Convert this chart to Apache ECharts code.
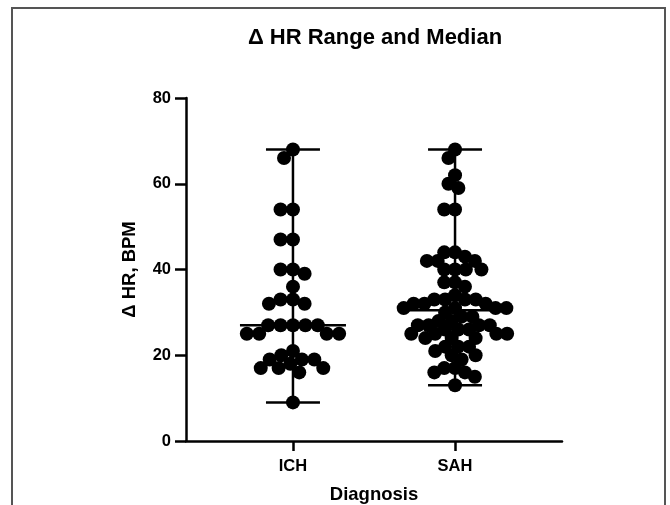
<!DOCTYPE html>
<html>
<head>
<meta charset="utf-8">
<script src="https://cdn.jsdelivr.net/npm/echarts@6/dist/echarts.min.js"></script>
<style>
html,body{margin:0;padding:0;background:#fff;overflow:hidden;}
#chart{width:670px;height:505px;}
</style>
</head>
<body>
<div id="chart"></div>
<script>
// ---- data ----
const categories = ['ICH', 'SAH'];
const ichValues = [68, 66, 54, 54, 47, 47, 39, 40, 40, 36, 33, 33, 32, 32,
  27, 27, 27, 27, 27, 25, 25, 25, 25, 21, 20,
  19, 19, 18, 17, 17, 16, 17, 19, 9];
const sahValues = [68, 66, 62, 60, 59, 54, 54,
  44, 44, 43, 42, 42, 42, 40, 40, 40, 40,
  37, 37, 36, 34,
  33, 33, 33, 33, 32, 32, 32,
  31, 31, 31, 31, 30,
  29, 29,
  28, 28, 27, 27, 27, 27, 26, 26, 26,
  25, 25, 25, 25, 24, 24, 24,
  22, 22, 22,
  21, 20, 20, 19,
  17, 17, 16, 16, 15, 13];
const yTicks = [0, 20, 40, 60, 80];

// ---- layout constants ----
const GRID = {left: 186, top: 98, width: 376, height: 343};
const X_MIN = 0.34, X_MAX = 2.66;
const PX = GRID.width / (X_MAX - X_MIN);   // px per x unit
const PY = GRID.height / (yTicks[yTicks.length - 1] - yTicks[0]); // px per y unit
const DOT = 14;                // symbol size
const SPACING = [12.4, 10.8];  // collision distance in px per group

function swarm(vals, cx, D) {
  const sorted = vals.slice().sort((a, b) => b - a);
  const placed = [];
  sorted.forEach(v => {
    const y = v * PY;
    const cands = [0];
    placed.forEach(p => {
      const dy = Math.abs(p.y - y);
      if (dy < D) {
        const dx = Math.sqrt(D * D - dy * dy);
        cands.push(p.x + dx, p.x - dx);
      }
    });
    const ok = cands.filter(c => placed.every(p => {
      const dx = p.x - c, dy = p.y - y;
      return dx * dx + dy * dy >= D * D - 0.01;
    }));
    ok.sort((a, b) => Math.abs(a) - Math.abs(b) || a - b);
    placed.push({x: ok[0], y: y, v: v});
  });
  return placed.map(p => [cx + p.x / PX, p.v]);
}
function median(a) {
  const s = a.slice().sort((x, y) => x - y);
  const n = s.length;
  return n % 2 ? s[(n - 1) / 2] : (s[n / 2 - 1] + s[n / 2]) / 2;
}
const groups = [ichValues, sahValues];
const summary = groups.map((g, i) => [i + 1, Math.min(...g), median(g), Math.max(...g)]);

const FONT = 'Liberation Sans, Arial, sans-serif';
const chart = echarts.init(document.getElementById('chart'), null, {renderer: 'canvas'});
chart.setOption({
  animation: false,
  backgroundColor: '#fff',
  title: {
    text: 'Δ HR Range and Median',
    left: 370, top: 22, textAlign: 'center',
    textStyle: {fontFamily: FONT, fontWeight: 'bold', fontSize: 22, color: '#000'}
  },
  grid: {left: GRID.left, top: GRID.top, width: GRID.width, height: GRID.height,
    containLabel: false, outerBoundsMode: 'none'},
  xAxis: {
    type: 'value', min: X_MIN, max: X_MAX,
    splitLine: {show: false},
    axisLine: {show: true, lineStyle: {color: '#000', width: 2.5}},
    axisTick: {show: true, customValues: [1, 2], length: 10, lineStyle: {color: '#000', width: 2.5}},
    axisLabel: {show: true, customValues: [1, 2], margin: 17,
      formatter: v => categories[Math.round(v) - 1] || '',
      fontFamily: FONT, fontWeight: 'bold', fontSize: 16.5, color: '#000'},
    name: 'Diagnosis', nameLocation: 'middle', nameGap: 44,
    nameTextStyle: {fontFamily: FONT, fontWeight: 'bold', fontSize: 18.5, color: '#000'}
  },
  yAxis: {
    type: 'value', min: 0, max: 80, interval: 20,
    splitLine: {show: false},
    axisLine: {show: true, lineStyle: {color: '#000', width: 2.5}},
    axisTick: {show: true, length: 11, lineStyle: {color: '#000', width: 2.5}},
    axisLabel: {margin: 15, fontFamily: FONT, fontWeight: 'bold', fontSize: 16.5, color: '#000'},
    name: 'Δ HR, BPM', nameLocation: 'middle', nameGap: 47,
    nameTextStyle: {fontFamily: FONT, fontWeight: 'bold', fontSize: 18.5, color: '#000'}
  },
  graphic: [{
    type: 'polyline', silent: true,
    shape: {points: [[12, 505], [12, 8], [665, 8], [665, 505]]},
    style: {stroke: '#555', lineWidth: 2, fill: null}
  }],
  series: [
    {
      type: 'custom', z: 1,
      data: summary,
      renderItem: function (params, api) {
        const x = api.value(0);
        const pMin = api.coord([x, api.value(1)]);
        const pMed = api.coord([x, api.value(2)]);
        const pMax = api.coord([x, api.value(3)]);
        const st = {stroke: '#000', lineWidth: 2.5};
        const ln = (x1, y1, x2, y2) => ({type: 'line', shape: {x1, y1, x2, y2}, style: st});
        return {type: 'group', children: [
          ln(pMax[0], pMax[1], pMin[0], pMin[1]),
          ln(pMax[0] - 27, pMax[1], pMax[0] + 27, pMax[1]),
          ln(pMin[0] - 27, pMin[1], pMin[0] + 27, pMin[1]),
          ln(pMed[0] - 53, pMed[1], pMed[0] + 53, pMed[1])
        ]};
      }
    },
    {
      type: 'scatter', z: 2, symbolSize: DOT,
      itemStyle: {color: '#000', opacity: 1},
      data: swarm(ichValues, 1, SPACING[0])
    },
    {
      type: 'scatter', z: 2, symbolSize: DOT,
      itemStyle: {color: '#000', opacity: 1},
      data: swarm(sahValues, 2, SPACING[1])
    }
  ]
});
</script>
</body>
</html>
